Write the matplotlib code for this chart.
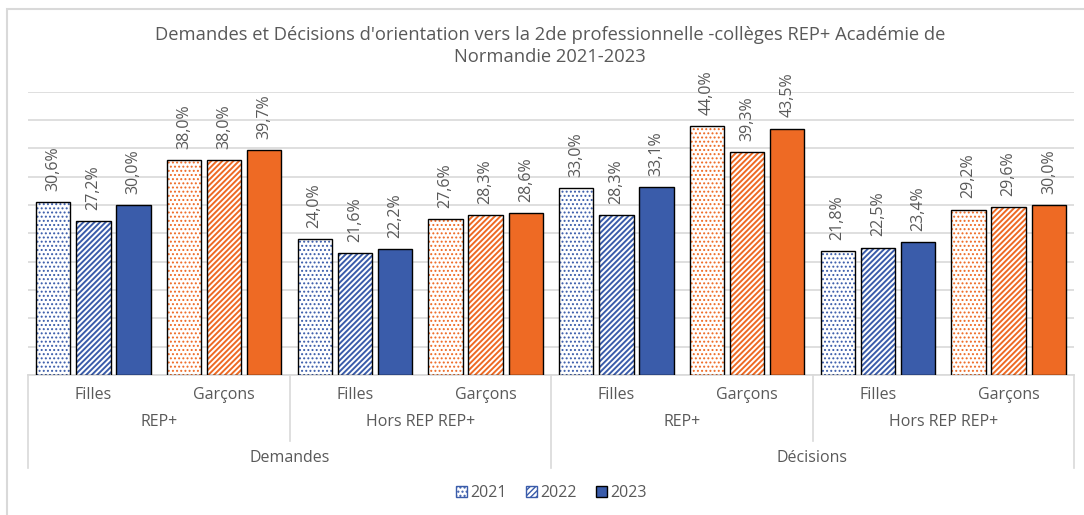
import matplotlib
matplotlib.use("Agg")
import matplotlib.pyplot as plt
from matplotlib.patches import Rectangle, Patch
from matplotlib.lines import Line2D

plt.rcParams['font.family'] = ['Open Sans', 'DejaVu Sans']

title = "Demandes et Décisions d'orientation vers la 2de professionnelle -collèges REP+ Académie de\nNormandie 2021-2023"
sexes = ["Filles", "Garçons", "Filles", "Garçons", "Filles", "Garçons", "Filles", "Garçons"]
zones = ["REP+", "Hors REP REP+", "REP+", "Hors REP REP+"]
types = ["Demandes", "Décisions"]
years = ["2021", "2022", "2023"]
v2021 = [30.6, 38.0, 24.0, 27.6, 33.0, 44.0, 21.8, 29.2]
v2022 = [27.2, 38.0, 21.6, 28.3, 28.3, 39.3, 22.5, 29.6]
v2023 = [30.0, 39.7, 22.2, 28.6, 33.1, 43.5, 23.4, 30.0]

BLUE = "#3A5CAA"
ORANGE = "#EE6A24"
TXT = "#595959"
GRID = "#D9D9D9"

W, H = 1084, 515
fig = plt.figure(figsize=(W / 100, H / 100), dpi=100)

def fx(px):
    return px / W

def fy(py):
    return 1 - py / H

ax_l, ax_r, ax_b, ax_t = 28, 1074, 375, 91.7
ax = fig.add_axes([fx(ax_l), fy(ax_b), fx(ax_r - ax_l), fy(ax_t) - fy(ax_b)])
ax.set_xlim(-0.5, 7.5)
ax.set_ylim(0, 50)
ax.set_yticks(range(0, 51, 5))
ax.yaxis.grid(True, color=GRID, linewidth=1.2)
ax.set_axisbelow(True)
ax.tick_params(left=False, labelleft=False, bottom=False, labelbottom=False)
for s in ["top", "right", "left"]:
    ax.spines[s].set_visible(False)
ax.spines["bottom"].set_color(GRID)
ax.spines["bottom"].set_linewidth(1.2)

hatches = ["....", "//////", None]
hlw = [0.9, 1.4, None]
width = 0.262
offs = [-0.3077, 0.0, 0.3077]
series = [v2021, v2022, v2023]
for i in range(8):
    col = BLUE if i % 2 == 0 else ORANGE
    for j, vals in enumerate(series):
        x = i + offs[j]
        v = vals[i]
        if hatches[j] is None:
            ax.bar(x, v, width, color=col, edgecolor="black", linewidth=1.0, zorder=3)
        else:
            with plt.rc_context({'hatch.linewidth': hlw[j]}):
                ax.bar(x, v, width, color="white", edgecolor=col, hatch=hatches[j], linewidth=0, zorder=3)
            ax.bar(x, v, width, fill=False, edgecolor="black", linewidth=1.0, zorder=4)
        ax.annotate(f"{v:.1f}%".replace(".", ","), (x, v), xytext=(0, 8), textcoords="offset points",
                    rotation=90, ha="center", va="bottom", color=TXT, fontsize=11.5, zorder=5)

# Title
lines = title.split("\n")
fig.text(fx(550), fy(35), lines[0], ha="center", va="center", fontsize=13.2, color=TXT)
fig.text(fx(550), fy(57), lines[1], ha="center", va="center", fontsize=13.2, color=TXT)

# Multi-level category axis
pw = (ax_r - ax_l) / 8.0
for i, s in enumerate(sexes):
    fig.text(fx(ax_l + pw * (i + 0.5)), fy(395), s, ha="center", va="center", fontsize=11.5, color=TXT)
for k, z in enumerate(zones):
    fig.text(fx(ax_l + pw * (2 * k + 1)), fy(422), z, ha="center", va="center", fontsize=11.5, color=TXT)
for k, t in enumerate(types):
    fig.text(fx(ax_l + pw * (4 * k + 2)), fy(458), t, ha="center", va="center", fontsize=11.5, color=TXT)

def vline(xp, y0, y1):
    fig.add_artist(Line2D([fx(xp), fx(xp)], [fy(y0), fy(y1)], color=GRID, linewidth=1.2))

for k in [0, 4, 8]:
    vline(ax_l + pw * k, ax_b, 468)
for k in [2, 6]:
    vline(ax_l + pw * k, ax_b, 441)

# Outer border
fig.add_artist(Rectangle((fx(6.5), -0.05), 1.2, fy(9) + 0.05, fill=False, edgecolor=GRID, linewidth=1.5))

# Legend
with plt.rc_context({'hatch.linewidth': 0.9}):
    h1 = Patch(facecolor="white", edgecolor=BLUE, hatch="....")
with plt.rc_context({'hatch.linewidth': 1.4}):
    h2 = Patch(facecolor="white", edgecolor=BLUE, hatch="//////")
h3 = Patch(facecolor=BLUE, edgecolor="black")
leg = fig.legend([h1, h2, h3], years, loc="center", bbox_to_anchor=(fx(551), fy(493)), ncol=3, frameon=False,
                 fontsize=11.5, handlelength=0.7, handleheight=0.7, handletextpad=0.2, columnspacing=1.2)
for t in leg.get_texts():
    t.set_color(TXT)

fig.savefig("out.png", dpi=100)
